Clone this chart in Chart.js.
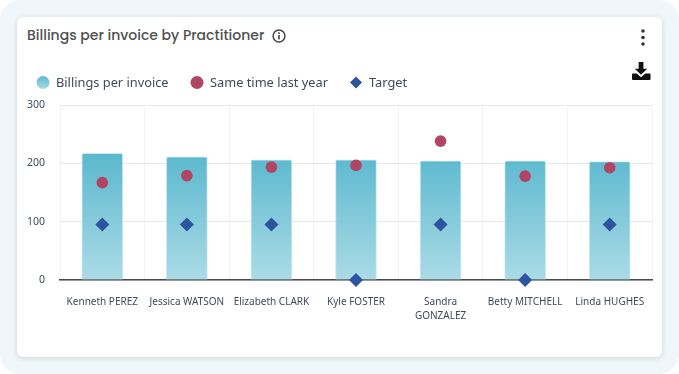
<!DOCTYPE html>
<html>
<head>
<meta charset="utf-8">
<script src="https://cdn.jsdelivr.net/npm/chart.js@4"></script>
<style>
html, body { margin: 0; padding: 0; width: 679px; height: 374px; overflow: hidden; background: #fff; }
.page { position: absolute; left: 0; top: 0; width: 679px; height: 374px; background: #f0f7fa; border-radius: 20px; }
.card { position: absolute; left: 17px; top: 17px; width: 645px; height: 340px; background: #fff; border-radius: 6px; box-shadow: 0 1px 5px rgba(60, 80, 90, .22); }
.title { position: absolute; left: 27px; top: 25px; font: 500 14px Poppins, "Open Sans", sans-serif; color: #505050; white-space: nowrap; }
.info { position: absolute; left: 272px; top: 29px; }
.dots { position: absolute; left: 640px; top: 29px; }
.save { position: absolute; left: 632px; top: 62px; }
canvas { position: absolute; left: 0; top: 0; }
</style>
</head>
<body>
<div class="page"></div>
<div class="card"></div>
<div class="title">Billings per invoice by Practitioner</div>
<svg class="info" width="14" height="14" viewBox="0 0 14 14"><circle cx="7" cy="7" r="5.9" fill="none" stroke="#444" stroke-width="1.5"/><rect x="6.2" y="6" width="1.6" height="4.4" fill="#444"/><rect x="6.2" y="3.4" width="1.6" height="1.6" fill="#444"/></svg>
<svg class="dots" width="6" height="18" viewBox="0 0 6 18"><circle cx="3" cy="2" r="1.8" fill="#333"/><circle cx="3" cy="8.500" r="1.8" fill="#333"/><circle cx="3" cy="15" r="1.8" fill="#333"/></svg>
<svg class="save" width="19" height="19" viewBox="0 0 20 20"><path d="M7 0h5v7h4l-6.500 6.500L3 7h4z" fill="#111"/><path d="M1 12h4l4.500 4 4.500-4h4.500a1 1 0 0 1 1 1v5a1 1 0 0 1-1 1H1a1 1 0 0 1-1-1v-5a1 1 0 0 1 1-1z" fill="#111"/></svg>
<canvas id="chart" width="679" height="374"></canvas>
<script>
const categories = ["Kenneth PEREZ", "Jessica WATSON", "Elizabeth CLARK", "Kyle FOSTER", ["Sandra", "GONZALEZ"], "Betty MITCHELL", "Linda HUGHES"];
const billings = [217, 211, 206, 206, 204.5, 204.5, 203];
const lastYear = [167, 179, 193.500, 196.500, 238, 178, 192.500];
const target = [95, 95, 95, 0, 95, 0, 95];
const yTicks = [0, 100, 200, 300];

const ctx = document.getElementById("chart").getContext("2d");
const barGradient = (context) => {
    const area = context.chart.chartArea;
    if (!area) return "#5bb8cd";
    const g = ctx.createLinearGradient(0, area.bottom - 127, 0, area.bottom);
    g.addColorStop(0, "rgba(84, 181, 204, 0.96)");
    g.addColorStop(1, "rgba(168, 218, 230, 0.96)");
    return g;
};

// legend is drawn by hand so the spacing follows the original
const legendItems = [
    { text: "Billings per invoice", x: 43, tx: 56, style: "circle", color: "gradient" },
    { text: "Same time last year", x: 197, tx: 210, style: "circle", color: "#b04663" },
    { text: "Target", x: 356, tx: 369, style: "rectRot", color: "#2d559f" },
];
const legendPlugin = {
    id: "handLegend",
    afterDraw(chart) {
        const c = chart.ctx;
        c.save();
        legendItems.forEach((item) => {
            if (item.color === "gradient") {
                const g = c.createLinearGradient(0, 76, 0, 89);
                g.addColorStop(0, "#5bb8cd");
                g.addColorStop(1, "#a9dbe6");
                c.fillStyle = g;
            } else {
                c.fillStyle = item.color;
            }
            c.beginPath();
            if (item.style === "circle") {
                c.arc(item.x, 82.500, 6.5, 0, Math.PI * 2);
            } else {
                c.moveTo(item.x, 76.500);
                c.lineTo(item.x + 6, 82.500);
                c.lineTo(item.x, 88.500);
                c.lineTo(item.x - 6, 82.500);
                c.closePath();
            }
            c.fill();
            c.fillStyle = "#3f4a5a";
            c.font = '12.8px "Noto Sans"';
            c.textBaseline = "middle";
            c.fillText(item.text, item.tx, 83);
        });
        c.restore();
    },
};

new Chart(ctx, {
    type: "bar",
    data: {
        labels: categories,
        datasets: [
            {
                label: "Target",
                type: "line",
                data: target,
                showLine: false,
                pointStyle: "rectRot",
                pointRadius: 7,
                pointHoverRadius: 7,
                pointBackgroundColor: "#2d559f",
                pointBorderWidth: 0,
                clip: false,
                order: 1,
            },
            {
                label: "Same time last year",
                type: "line",
                data: lastYear,
                showLine: false,
                pointStyle: "circle",
                pointRadius: 5.8,
                pointBackgroundColor: "#b04663",
                pointBorderWidth: 0,
                clip: false,
                order: 2,
            },
            {
                label: "Billings per invoice",
                data: billings,
                backgroundColor: barGradient,
                borderColor: "rgba(190, 228, 237, 0.8)",
                borderWidth: 1,
                borderRadius: { topLeft: 2, topRight: 2 },
                barThickness: 41,
                order: 3,
            },
        ],
    },
    options: {
        responsive: false,
        animation: false,
        layout: { padding: { left: 0, right: 27, top: 105, bottom: 0 } },
        plugins: { legend: { display: false }, tooltip: { enabled: false } },
        scales: {
            x: {
                afterFit(scale) { scale.height = 94; },
                grid: { color: "#f2f3f4", drawTicks: false },
                border: { color: "#4a4a4a", width: 1.5 },
                ticks: { color: "#3f4a5a", font: { family: "Noto Sans", size: 10, lineHeight: 1.4 }, padding: 15, maxRotation: 0, autoSkip: false },
            },
            y: {
                min: 0,
                max: 300,
                afterFit(scale) { scale.width = 60; },
                afterBuildTicks(scale) { scale.ticks = yTicks.map((value) => ({ value })); },
                grid: { color: "#e6e8ea", drawTicks: false },
                border: { display: false },
                ticks: { color: "#3f4a5a", font: { family: "Noto Sans", size: 10.5 }, padding: 15 },
            },
        },
    },
    plugins: [legendPlugin],
});
</script>
</body>
</html>
